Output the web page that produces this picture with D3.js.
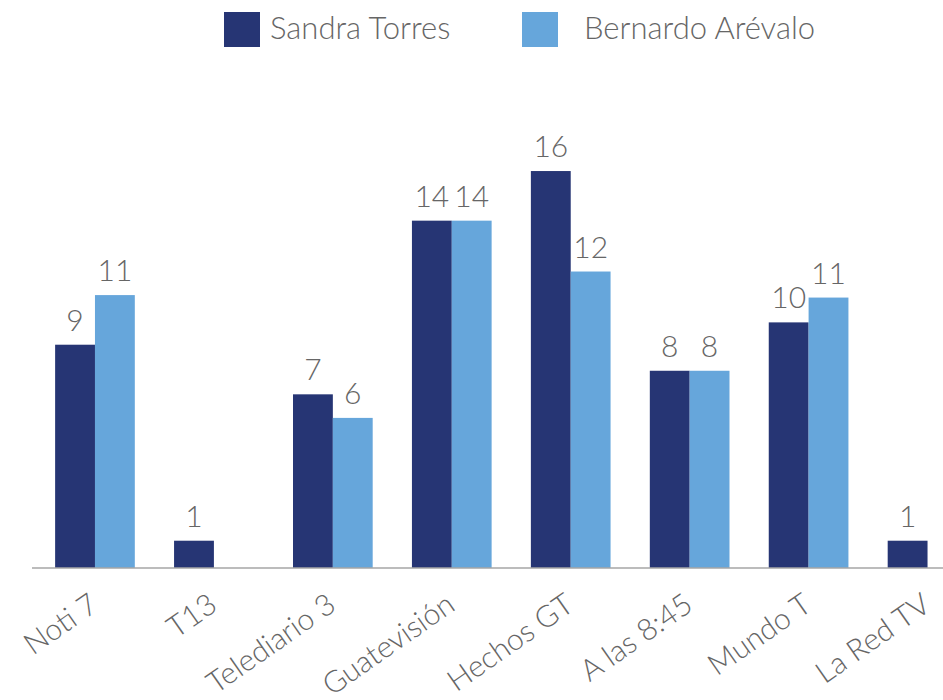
<!DOCTYPE html>
<html>
<head>
<meta charset="utf-8">
<script src="https://cdnjs.cloudflare.com/ajax/libs/d3/7.8.5/d3.min.js"></script>
<style>
  body { margin: 0; background: #fff; }
  svg { display: block; font-family: Lato, "Open Sans", sans-serif; }
</style>
</head>
<body>
<svg id="chart" width="943" height="700"></svg>
<script>
// data
const categories = ['Noti 7', 'T13', 'Telediario 3', 'Guatevisión', 'Hechos GT', 'A las 8:45', 'Mundo T', 'La Red TV'];
const seriesNames = ['Sandra Torres', 'Bernardo Arévalo'];
const torres = [9, 1.1, 7, 14, 16, 7.95, 9.9, 1.1];
const arevalo = [11, 0, 6.05, 14, 11.95, 7.95, 10.9, 0];
const colors = ['#263574', '#66a6db'];

const svg = d3.select('#chart');
const baseY = 568;
const textColor = '#666666';

const x0 = d3.scaleBand()
    .domain(categories)
    .range([35.5, 987])
    .paddingInner(0.33)
    .paddingOuter(0.165);

const x1 = d3.scaleBand()
    .domain(seriesNames)
    .range([0, x0.bandwidth()]);

const y = d3.scaleLinear()
    .domain([0, 18])
    .range([baseY, baseY - 18 * 24.81]);

const rows = categories.map((c, i) => ({ cat: c, values: [torres[i], arevalo[i]] }));

// bars
const groups = svg.append('g').selectAll('g')
    .data(rows)
    .join('g')
    .attr('transform', d => `translate(${x0(d.cat)},0)`);

groups.selectAll('rect')
    .data(d => d.values.map((v, j) => ({ name: seriesNames[j], v, j })))
    .join('rect')
    .attr('x', d => x1(d.name))
    .attr('y', d => y(d.v))
    .attr('width', x1.bandwidth())
    .attr('height', d => baseY - y(d.v))
    .attr('fill', d => colors[d.j]);

// value labels (skip zero)
groups.selectAll('text')
    .data(d => d.values.map((v, j) => ({ name: seriesNames[j], v, j })).filter(d => d.v > 0))
    .join('text')
    .attr('x', d => x1(d.name) + x1.bandwidth() / 2)
    .attr('y', d => y(d.v) - 14)
    .attr('text-anchor', 'middle')
    .attr('fill', textColor)
    .attr('font-size', 30)
    .attr('font-weight', 300)
    .text(d => Math.round(d.v));

// axis line
svg.append('line')
    .attr('x1', 32).attr('x2', 943)
    .attr('y1', baseY).attr('y2', baseY)
    .attr('stroke', '#a6a6a6')
    .attr('stroke-width', 1.5);

// category labels
svg.append('g').selectAll('text')
    .data(categories)
    .join('text')
    .attr('transform', d => `translate(${x0(d) + x0.bandwidth() / 2 + 5},${baseY + 41}) rotate(-35)`)
    .attr('text-anchor', 'end')
    .attr('fill', textColor)
    .attr('font-size', 30)
    .attr('font-weight', 300)
    .text(d => d);

// legend
const legend = svg.append('g').selectAll('g')
    .data(seriesNames)
    .join('g')
    .attr('transform', (d, i) => `translate(${[224, 522][i]},12)`);

legend.append('rect')
    .attr('width', 36).attr('height', 35)
    .attr('fill', (d, i) => colors[i]);

legend.append('text')
    .attr('x', (d, i) => [46, 62][i])
    .attr('y', 27)
    .attr('fill', textColor)
    .attr('font-size', 31)
    .attr('font-weight', 300)
    .text(d => d);
</script>
</body>
</html>
